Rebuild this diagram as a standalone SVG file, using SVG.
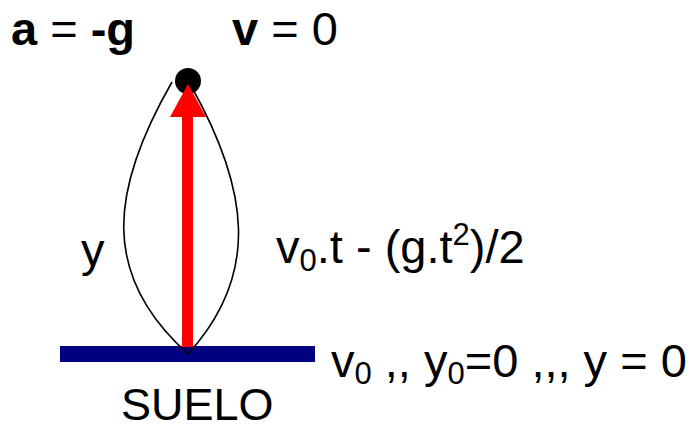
<svg xmlns="http://www.w3.org/2000/svg" width="697" height="429" viewBox="0 0 697 429">
<style>
text{font-family:"Liberation Sans",Arial,sans-serif;fill:#000}
.b{font-weight:bold}
.t{font-size:47px}
.s{font-size:31px}
.traj{fill:none;stroke:#000;stroke-width:1.6}
</style>
<rect width="697" height="429" fill="#fff"/>
<g id="ground">
<rect x="60" y="346" width="255" height="16" fill="#000080"/>
<text x="121" y="420" font-size="45">SUELO</text>
</g>
<g id="ball">
<circle cx="188" cy="81" r="13" fill="#000"/>
</g>
<g id="connectors">
<rect x="182" y="116" width="11" height="231" fill="#ff0000"/>
<polygon points="188,84 170,117 206,117" fill="#ff0000"/>
<path class="traj" d="M172,82 C110,190 100,275 188,354"/>
<path class="traj" d="M190,84 C250,190 260,275 188,354"/>
</g>
<g id="labels">
<text class="t" x="11" y="45"><tspan class="b">a</tspan> = <tspan class="b">-g</tspan></text>
<text class="t" x="232" y="45"><tspan class="b">v</tspan> = 0</text>
<text class="t" x="81" y="266">y</text>
<text class="t" x="276" y="263">v<tspan class="s" dy="8">0</tspan><tspan dy="-8">.t - (g.t</tspan><tspan class="s" dy="-18">2</tspan><tspan dy="18">)/2</tspan></text>
<text class="t" x="331" y="377">v<tspan class="s" dy="7">0</tspan><tspan dy="-7"> ,, y</tspan><tspan class="s" dy="7">0</tspan><tspan dy="-7">=0 ,,, y = 0</tspan></text>
</g>
</svg>
